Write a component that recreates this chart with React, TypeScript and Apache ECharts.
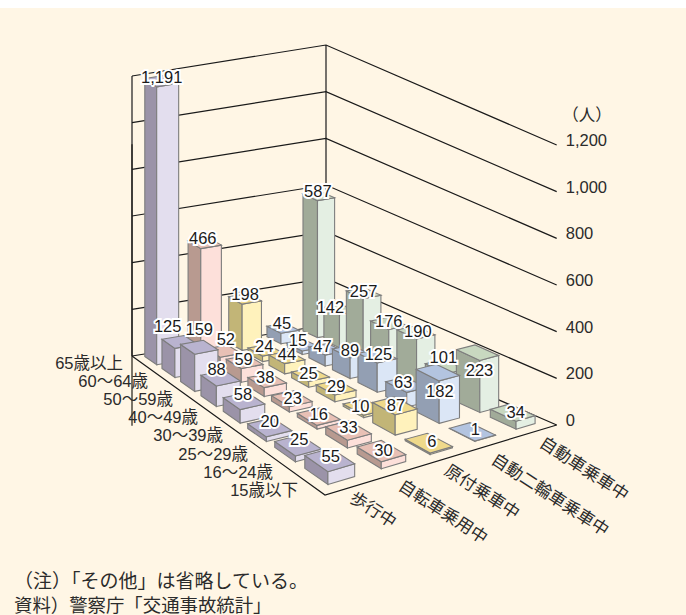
import React, { useEffect, useRef } from "react";
import * as echarts from "echarts";

// Fatalities by mode of travel (columns) and age group (rows).
const modes = ["歩行中", "自転車乗用中", "原付乗車中", "自動二輪車乗車中", "自動車乗車中"];
const ageGroups = ["65歳以上", "60～64歳", "50～59歳", "40～49歳", "30～39歳", "25～29歳", "16～24歳", "15歳以下"];
const pedestrian = [1191, 125, 159, 88, 58, 20, 25, 55];
const cyclist = [466, 52, 59, 38, 23, 16, 33, 30];
const moped = [198, 24, 44, 25, 29, 10, 87, 6];
const motorcycle = [45, 15, 47, 89, 125, 63, 182, 1];
const car = [587, 142, 257, 176, 190, 101, 223, 34];
const valueTicks = [0, 200, 400, 600, 800, 1000, 1200];

const columns = [pedestrian, cyclist, moped, motorcycle, car];

// front / side / top face colours per mode
const palette = [
  ["#e3deee", "#9b93a8", "#b9b3cf"],
  ["#fde0da", "#b89a90", "#e8c0b5"],
  ["#fff2bc", "#c2b577", "#efd98a"],
  ["#dbe6f6", "#939fb3", "#b3c4e0"],
  ["#e4efe3", "#a1ab99", "#c8d8c0"],
];

const FONT = '"Liberation Sans", "Noto Sans CJK JP", sans-serif';
const INK = "#1a1a1a";
const EDGE = "#7d7d7d";
const TEXT = "#2b2b2b";

// Perspective mapping of the floor: (u, v) in the unit square to screen pixels.
// The corners are left (0,0), back (1,0), right (1,1) and front (0,1).
const floor = { l: [132, 356], b: [326, 325], r: [556.7, 425], f: [325, 495] };
function makeHomography() {
  const { l, b, r, f } = floor;
  const dx1 = b[0] - r[0], dx2 = f[0] - r[0], sx = l[0] - b[0] + r[0] - f[0];
  const dy1 = b[1] - r[1], dy2 = f[1] - r[1], sy = l[1] - b[1] + r[1] - f[1];
  const den = dx1 * dy2 - dx2 * dy1;
  const g = (sx * dy2 - dx2 * sy) / den;
  const h = (dx1 * sy - sx * dy1) / den;
  const a = b[0] - l[0] + g * b[0], c = f[0] - l[0] + h * f[0];
  const d = b[1] - l[1] + g * b[1], e = f[1] - l[1] + h * f[1];
  return (u: number, v: number): [number, number] => {
    const w = g * u + h * v + 1;
    return [(a * u + c * v + l[0]) / w, (d * u + e * v + l[1]) / w];
  };
}
const project = makeHomography();

// Footprint of a bar on the floor.
const COL_STEP = 0.2, COL_START = 0.044, COL_WIDTH = 0.098;
const ROW_STEP = 0.1226, ROW_START = 0.022, ROW_DEPTH = 0.086;

function barCorners(col: number, row: number) {
  const u0 = COL_START + col * COL_STEP, u1 = u0 + COL_WIDTH;
  const v0 = ROW_START + row * ROW_STEP, v1 = v0 + ROW_DEPTH;
  return {
    left: project(u0, v0),
    near: project(u0, v1),
    right: project(u1, v1),
    far: project(u1, v0),
  };
}

const raise = (p: number[], dy: number) => [p[0], p[1] - dy];

// Painter's order: far rows first, and within a row from the right-hand column.
const barData: number[][] = [];
ageGroups.forEach((_, row) => {
  for (let col = modes.length - 1; col >= 0; col--) {
    barData.push([col, row, columns[col][row]]);
  }
});

function heightOf(api: any, value: number) {
  return api.coord([0, 0])[1] - api.coord([0, value])[1];
}

function renderWall(_: any, api: any) {
  const value = api.value(0);
  const dy = heightOf(api, value);
  const line = { stroke: INK, lineWidth: 1.2, fill: "none" };
  const { l, b, r, f } = floor;
  const children: any[] = [
    { type: "polyline", shape: { points: [raise(l, dy), raise(b, dy), raise(r, dy)] }, style: line },
  ];
  if (value === 0) {
    children.push({ type: "polyline", shape: { points: [l, f, r] }, style: line });
  } else if (value === valueTicks[valueTicks.length - 1]) {
    children.push({ type: "line", shape: { x1: l[0], y1: l[1], x2: l[0], y2: l[1] - dy }, style: line });
    children.push({ type: "line", shape: { x1: b[0], y1: b[1], x2: b[0], y2: b[1] - dy }, style: line });
  }
  return { type: "group", children };
}

function renderBar(_: any, api: any) {
  const col = api.value(0), row = api.value(1);
  const dy = heightOf(api, api.value(2));
  const { left, near, right, far } = barCorners(col, row);
  const [front, side, top] = palette[col];
  const face = (points: number[][], fill: string) => ({
    type: "polygon",
    shape: { points },
    style: { fill, stroke: EDGE, lineWidth: 1.1 },
  });
  return {
    type: "group",
    children: [
      face([left, near, raise(near, dy), raise(left, dy)], side),
      face([near, right, raise(right, dy), raise(near, dy)], front),
      face([raise(left, dy), raise(near, dy), raise(right, dy), raise(far, dy)], top),
    ],
  };
}

// Hand placement of value labels, per mode and age group, in pixels [dx, dy].
const labelNudge: [number, number][][] = [
  [[0, 0], [-12, -12], [0, -14], [-4, -5], [-1, -3], [0, -2], [1, -2], [1, 0]],
  [[-2, -1], [2, -8], [-1, 1], [-2, 1], [1, 3], [0, 2], [0, 1], [2, 3]],
  [[0, -1], [-1, 0], [0, 1], [-2, 2], [0, 3], [-4, 3], [1, 3], [3, 2]],
  [[-1, -1], [-6, -2], [-4, 1], [-1, 3], [1, 2], [-3, 1], [2, 23], [3, 1]],
  [[-1, -1], [-10, 2], [0, 2], [0, 2], [2, 3], [-2, -5], [2, 21], [3, 3]],
];

function renderValueLabel(_: any, api: any) {
  const col = api.value(0), row = api.value(1), value = api.value(2);
  const dy = heightOf(api, value);
  const { left, right } = barCorners(col, row);
  const nudge = labelNudge[col][row];
  return {
    type: "text",
    style: {
      text: value.toLocaleString("en-US"),
      x: (left[0] + right[0]) / 2 + nudge[0],
      y: (left[1] + right[1]) / 2 - dy - 4 + nudge[1],
      align: "center",
      verticalAlign: "middle",
      font: `16.5px ${FONT}`,
      fill: "#1a1a1a",
      stroke: "#ffffff",
      lineWidth: 4,
    },
  };
}

function renderAgeLabel(_: any, api: any) {
  const i = api.value(0);
  return {
    type: "text",
    style: {
      text: ageGroups[i],
      x: 123 + 25 * i,
      y: 363 + 18.1 * i,
      align: "right",
      verticalAlign: "middle",
      font: `16.5px ${FONT}`,
      fill: TEXT,
    },
  };
}

// Text anchors of the rotated mode names along the front-right floor edge.
const modeAnchors = [[373, 510], [443, 512], [482, 492], [550, 495], [584, 469]];

function renderModeLabel(_: any, api: any) {
  const i = api.value(0);
  const c = modeAnchors[i];
  return {
    type: "text",
    x: c[0],
    y: c[1],
    rotation: (-33 * Math.PI) / 180,
    style: {
      text: modes[i],
      x: 0,
      y: 0,
      align: "center",
      verticalAlign: "middle",
      font: `17px ${FONT}`,
      fill: TEXT,
    },
  };
}

const noEvents = { silent: true };

export default function App() {
  const ref = useRef<HTMLDivElement>(null);
  useEffect(() => {
    const chart = echarts.init(ref.current!, undefined, { renderer: "svg" });
    chart.setOption({
      animation: false,
      backgroundColor: "#ffffff",
      grid: { left: 132, right: 686 - 556.7, top: 145, bottom: 615 - 425 },
      xAxis: { type: "value", min: 0, max: 1, show: false },
      yAxis: {
        type: "value",
        position: "right",
        min: 0,
        max: 1200,
        interval: 200,
        splitLine: { show: false },
        axisTick: { show: false },
        axisLine: { show: true, lineStyle: { color: "#7a7468", width: 2 } },
        axisLabel: {
          margin: 9,
          color: TEXT,
          fontFamily: FONT,
          fontSize: 16.5,
          verticalAlign: "bottom",
          lineHeight: 10,
          formatter: (v: number) => v.toLocaleString("en-US"),
        },
      },
      graphic: [
        {
          type: "rect",
          z: -10,
          shape: { x: 0, y: 8, width: 686, height: 607 },
          style: { fill: "#fff6e5" },
        },
        {
          type: "text",
          x: 587,
          y: 115,
          style: {
            text: "（人）",
            align: "center",
            verticalAlign: "middle",
            font: `16.5px ${FONT}`,
            fill: TEXT,
          },
        },
        {
          type: "text",
          x: 14,
          y: 581,
          style: {
            text: "（注）「その他」は省略している。",
            verticalAlign: "middle",
            font: `19px ${FONT}`,
            fill: TEXT,
          },
        },
        {
          type: "text",
          x: 14,
          y: 605,
          style: {
            text: "資料）警察庁「交通事故統計」",
            verticalAlign: "middle",
            font: `18.4px ${FONT}`,
            fill: TEXT,
          },
        },
      ],
      series: [
        { type: "custom", name: "walls", renderItem: renderWall, data: valueTicks.map((v) => [v]), z: 1, clip: false, ...noEvents },
        { type: "custom", name: "bars", renderItem: renderBar, data: barData, z: 2, clip: false, ...noEvents },
        { type: "custom", name: "values", renderItem: renderValueLabel, data: barData, z: 3, clip: false, ...noEvents },
        { type: "custom", name: "ages", renderItem: renderAgeLabel, data: ageGroups.map((_, i) => [i]), z: 3, clip: false, ...noEvents },
        { type: "custom", name: "modes", renderItem: renderModeLabel, data: modes.map((_, i) => [i]), z: 3, clip: false, ...noEvents },
      ],
    });
    return () => chart.dispose();
  }, []);
  return <div ref={ref} style={{ position: "fixed", left: 0, top: 0, width: 686, height: 615 }} />;
}
